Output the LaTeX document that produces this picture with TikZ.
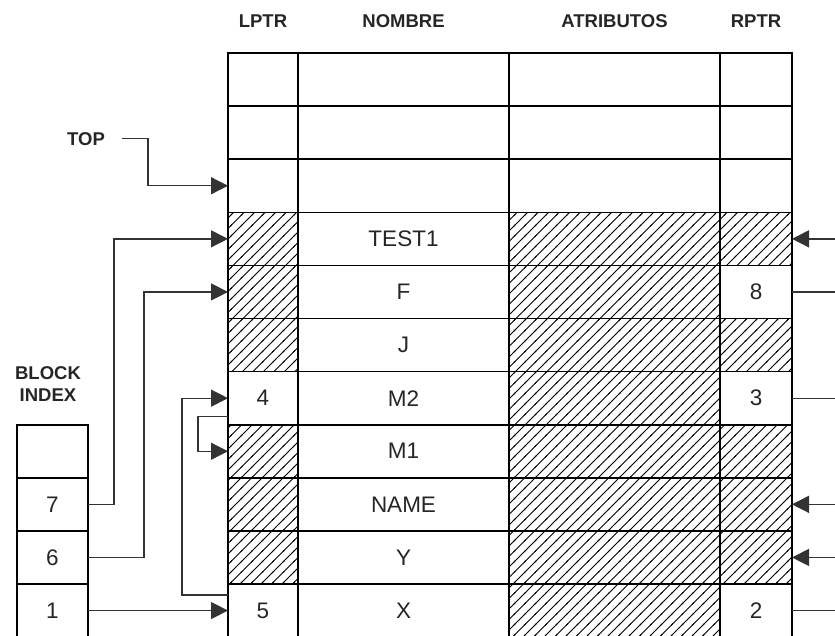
\documentclass[tikz,border=0pt]{standalone}
\usepackage{fontspec}
\setmainfont{Liberation Sans}
\usetikzlibrary{arrows.meta,patterns.meta}
\newcommand\cellfont{\fontsize{22.5}{26}\selectfont}
\newcommand\hdrfont{\fontsize{18.5}{21}\selectfont\bfseries}
\tikzdeclarepattern{
  name=hatchlines,
  type=uncolored,
  bottom left={(-1pt,-1pt)},
  top right={(11.5pt,11.5pt)},
  tile size={(10.5pt,10.5pt)},
  code={\draw[line width=1pt] (-1pt,-1pt) -- (11.5pt,11.5pt);}
}
\begin{document}
\begin{tikzpicture}[x=1pt,y=-1pt,
  cell/.style={draw=black, line width=1.6pt, minimum height=53.1pt, inner sep=0pt, outer sep=0pt, font=\cellfont, text=black!85},
  lc/.style={cell, minimum width=70pt},
  nc/.style={cell, minimum width=211pt},
  ac/.style={cell, minimum width=211pt},
  rc/.style={cell, minimum width=72pt},
  bc/.style={cell, minimum width=71pt},
  hatched/.style={pattern=hatchlines, pattern color=black},
  hdr/.style={font=\hdrfont, inner sep=0pt, anchor=base, text=black!85},
  conn/.style={draw=black!80, line width=1.3pt},
  arr/.style={conn, -{Triangle[length=17pt,width=17pt]}}]
\useasboundingbox (0,0) rectangle (835,635);
\fill[white] (0,0) rectangle (835,635);
\clip (0,0) rectangle (835,635);

% headers
\node[hdr] (hL) at (263,27.5) {LPTR};
\node[hdr] (hN) at (403.5,27.5) {NOMBRE};
\node[hdr] (hA) at (614.5,27.5) {ATRIBUTOS};
\node[hdr] (hR) at (756,27.5) {RPTR};
\node[hdr] (top) at (86,145) {TOP};
\node[hdr] (bi1) at (48,379) {BLOCK};
\node[hdr] (bi2) at (48,401) {INDEX};

% row 0
\node[lc] (L0) at (263,79.55) {};
\node[nc] (N0) at (403.5,79.55) {};
\node[ac] (A0) at (614.5,79.55) {};
\node[rc] (R0) at (756,79.55) {};
% row 1
\node[lc] (L1) at (263,132.65) {};
\node[nc] (N1) at (403.5,132.65) {};
\node[ac] (A1) at (614.5,132.65) {};
\node[rc] (R1) at (756,132.65) {};
% row 2
\node[lc] (L2) at (263,185.75) {};
\node[nc] (N2) at (403.5,185.75) {};
\node[ac] (A2) at (614.5,185.75) {};
\node[rc] (R2) at (756,185.75) {};
% row 3
\node[lc,hatched] (L3) at (263,238.85) {};
\node[nc] (N3) at (403.5,238.85) {TEST1};
\node[ac,hatched] (A3) at (614.5,238.85) {};
\node[rc,hatched] (R3) at (756,238.85) {};
% row 4
\node[lc,hatched] (L4) at (263,291.95) {};
\node[nc] (N4) at (403.5,291.95) {F};
\node[ac,hatched] (A4) at (614.5,291.95) {};
\node[rc] (R4) at (756,291.95) {8};
% row 5
\node[lc,hatched] (L5) at (263,345.05) {};
\node[nc] (N5) at (403.5,345.05) {J};
\node[ac,hatched] (A5) at (614.5,345.05) {};
\node[rc,hatched] (R5) at (756,345.05) {};
% row 6
\node[lc] (L6) at (263,398.15) {4};
\node[nc] (N6) at (403.5,398.15) {M2};
\node[ac,hatched] (A6) at (614.5,398.15) {};
\node[rc] (R6) at (756,398.15) {3};
% row 7
\node[lc,hatched] (L7) at (263,451.25) {};
\node[nc] (N7) at (403.5,451.25) {M1};
\node[ac,hatched] (A7) at (614.5,451.25) {};
\node[rc,hatched] (R7) at (756,451.25) {};
% row 8
\node[lc,hatched] (L8) at (263,504.35) {};
\node[nc] (N8) at (403.5,504.35) {NAME};
\node[ac,hatched] (A8) at (614.5,504.35) {};
\node[rc,hatched] (R8) at (756,504.35) {};
% row 9
\node[lc,hatched] (L9) at (263,557.45) {};
\node[nc] (N9) at (403.5,557.45) {Y};
\node[ac,hatched] (A9) at (614.5,557.45) {};
\node[rc,hatched] (R9) at (756,557.45) {};
% row 10
\node[lc] (L10) at (263,610.55) {5};
\node[nc] (N10) at (403.5,610.55) {X};
\node[ac,hatched] (A10) at (614.5,610.55) {};
\node[rc] (R10) at (756,610.55) {2};

% block index
\node[bc] (B7) at (52.5,451.25) {};
\node[bc] (B8) at (52.5,504.35) {7};
\node[bc] (B9) at (52.5,557.45) {6};
\node[bc] (B10) at (52.5,610.55) {1};

% connectors
\draw[arr] (top.east) ++(17,0) -- ++(26,0) |- (L2.west);
\draw[arr] (B8.east) -- ++(26,0) |- (L3.west);
\draw[arr] (B9.east) -- ++(56,0) |- (L4.west);
\draw[arr] (B10.east) -- (L10.west);
\draw[arr] ([yshift=-11pt]L10.north west) -- ++(-46,0) |- (L6.west);
\draw[arr] ([yshift=8pt]L6.south west) -- ++(-30,0) |- (L7.west);

\draw[arr] (R3.east) ++(48,0) -- (R3.east);
\draw[arr] (R8.east) ++(48,0) -- (R8.east);
\draw[arr] (R9.east) ++(48,0) -- (R9.east);
\draw[conn] (R4.east) -- ++(48,0);
\draw[conn] (R6.east) -- ++(48,0);
\draw[conn] (R10.east) -- ++(48,0);
\end{tikzpicture}
\end{document}
